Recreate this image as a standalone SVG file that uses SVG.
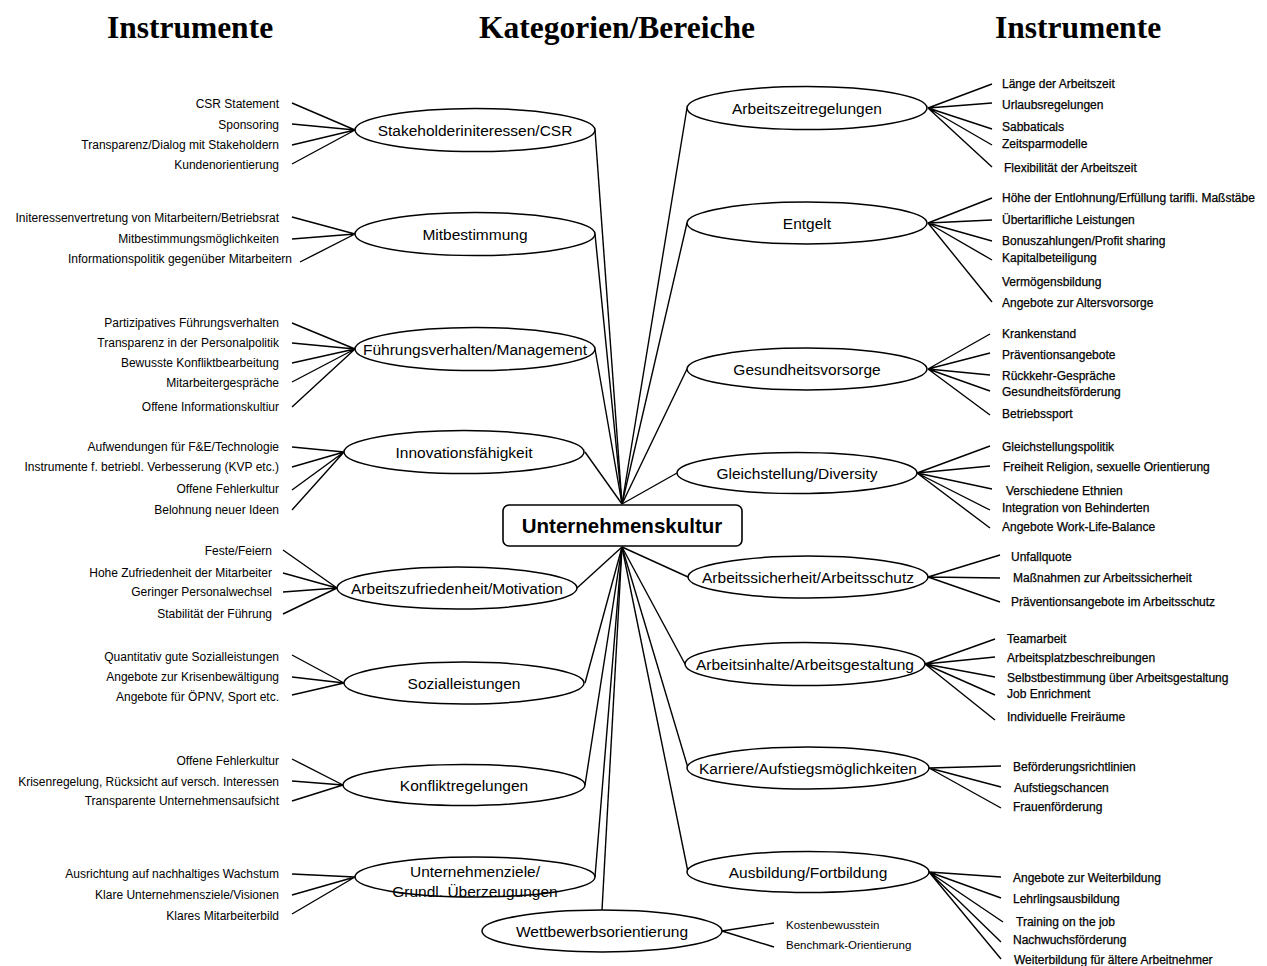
<svg xmlns="http://www.w3.org/2000/svg" width="1267" height="966" viewBox="0 0 1267 966">
  <style>
    .hdr { font-family: "Liberation Serif", "Times New Roman", serif; font-weight: bold; font-size: 31.5px; fill: #000; text-anchor: middle; }
    .cat { fill: #fff; stroke: #000; stroke-width: 1.5; }
    .catT { font-family: "Liberation Sans", Arial, sans-serif; font-size: 15.5px; fill: #000; text-anchor: middle; }
    .core { fill: #fff; stroke: #000; stroke-width: 1.6; }
    .coreT { font-family: "Liberation Sans", Arial, sans-serif; font-weight: bold; font-size: 20.5px; fill: #000; text-anchor: middle; }
    .il { font-family: "Liberation Sans", Arial, sans-serif; font-size: 12px; fill: #000; text-anchor: end; }
    .ir { font-family: "Liberation Sans", Arial, sans-serif; font-size: 12px; fill: #000; stroke: #000; stroke-width: 0.25; text-anchor: start; }
    .is { font-family: "Liberation Sans", Arial, sans-serif; font-size: 11.5px; fill: #000; text-anchor: start; }
    .ln { stroke: #000; stroke-width: 1.4; fill: none; }
  </style>

  <!-- column headings -->
  <g id="headings">
    <text class="hdr" x="190" y="38">Instrumente</text>
    <text class="hdr" x="617" y="38">Kategorien/Bereiche</text>
    <text class="hdr" x="1078" y="38">Instrumente</text>
  </g>

  <!-- all connectors: hub to categories, categories to instruments -->
  <g id="connectors" class="ln">
    <!-- hub (top) -->
    <line x1="622" y1="504" x2="595" y2="130"/>
    <line x1="622" y1="504" x2="595" y2="234"/>
    <line x1="622" y1="504" x2="595" y2="349"/>
    <line x1="622" y1="504" x2="585" y2="452"/>
    <line x1="622" y1="504" x2="687" y2="108"/>
    <line x1="622" y1="504" x2="687" y2="223"/>
    <line x1="622" y1="504" x2="687" y2="369"/>
    <line x1="622" y1="504" x2="677" y2="473"/>
    <!-- hub (bottom) -->
    <line x1="622" y1="547" x2="577" y2="588"/>
    <line x1="622" y1="547" x2="585" y2="683"/>
    <line x1="622" y1="547" x2="585" y2="785"/>
    <line x1="622" y1="547" x2="595" y2="877"/>
    <line x1="622" y1="547" x2="602" y2="910"/>
    <line x1="622" y1="547" x2="688" y2="577"/>
    <line x1="622" y1="547" x2="685" y2="664"/>
    <line x1="622" y1="547" x2="688" y2="768"/>
    <line x1="622" y1="547" x2="688" y2="872"/>

    <!-- left instruments -->
    <path d="M292 103 L355 130 M292 124 L355 130 M292 145 L355 130 M292 164 L355 130"/>
    <path d="M292 217 L355 234 M292 239 L355 234 M300 262 L355 234"/>
    <path d="M292 323 L355 349 M292 343 L355 349 M292 363 L355 349 M292 382 L355 349 M292 407 L355 349"/>
    <path d="M292 447 L344 452 M292 467 L344 452 M292 490 L344 452 M292 510 L344 452"/>
    <path d="M283 550 L337 588 M283 573 L337 588 M283 592 L337 588 M283 614 L337 588"/>
    <path d="M292 655 L344 683 M292 677 L344 683 M292 695 L344 683"/>
    <path d="M292 759 L343 785 M292 781 L343 785 M292 801 L343 785"/>
    <path d="M292 874 L355 877 M292 895 L355 877 M292 914 L355 877"/>

    <!-- right instruments -->
    <path d="M928 108 L992 84 M928 108 L992 103 M928 108 L992 129 M928 108 L992 145 M928 108 L992 167"/>
    <path d="M928 223 L992 198 M928 223 L992 220 M928 223 L992 241 M928 223 L992 260 M928 223 L992 302"/>
    <path d="M928 369 L990 334 M928 369 L990 353 M928 369 L990 375 M928 369 L990 391 M928 369 L990 415"/>
    <path d="M917 473 L990 446 M917 473 L990 466 M917 473 L992 489 M917 473 L990 510 M917 473 L990 528"/>
    <path d="M928 577 L1000 555 M928 577 L1000 578 M928 577 L1000 602"/>
    <path d="M925 664 L995 639 M925 664 L995 657 M925 664 L995 677 M925 664 L995 695 M925 664 L995 720"/>
    <path d="M929 768 L1001 766 M929 768 L1001 787 M929 768 L1001 808"/>
    <path d="M929 872 L1001 877 M929 872 L1001 898 M929 872 L1003 922 M929 872 L1001 942 M929 872 L1001 959"/>
    <path d="M722 931 L774 923 M722 931 L774 947"/>
  </g>

  <!-- central node -->
  <g id="unternehmenskultur">
    <rect class="core" x="503" y="505" width="239" height="41" rx="6"/>
    <text class="coreT" x="622" y="533">Unternehmenskultur</text>
  </g>

  <!-- left categories with their instruments -->
  <g id="stakeholder">
    <ellipse class="cat" cx="475" cy="130" rx="120" ry="21.5"/>
    <text class="catT" x="475" y="135.5">Stakeholderiniteressen/CSR</text>
    <text class="il" x="279" y="108">CSR Statement</text>
    <text class="il" x="279" y="129">Sponsoring</text>
    <text class="il" x="279" y="149">Transparenz/Dialog mit Stakeholdern</text>
    <text class="il" x="279" y="169">Kundenorientierung</text>
  </g>

  <g id="mitbestimmung">
    <ellipse class="cat" cx="475" cy="234" rx="120" ry="21.5"/>
    <text class="catT" x="475" y="239.5">Mitbestimmung</text>
    <text class="il" x="279" y="222">Initeressenvertretung von Mitarbeitern/Betriebsrat</text>
    <text class="il" x="279" y="243">Mitbestimmungsmöglichkeiten</text>
    <text class="il" x="292" y="263">Informationspolitik gegenüber Mitarbeitern</text>
  </g>

  <g id="fuehrungsverhalten">
    <ellipse class="cat" cx="475" cy="349" rx="120" ry="21.5"/>
    <text class="catT" x="475" y="354.5">Führungsverhalten/Management</text>
    <text class="il" x="279" y="327">Partizipatives Führungsverhalten</text>
    <text class="il" x="279" y="347">Transparenz in der Personalpolitik</text>
    <text class="il" x="279" y="367">Bewusste Konfliktbearbeitung</text>
    <text class="il" x="279" y="387">Mitarbeitergespräche</text>
    <text class="il" x="279" y="411">Offene Informationskultiur</text>
  </g>

  <g id="innovationsfaehigkeit">
    <ellipse class="cat" cx="464" cy="452" rx="120" ry="21.5"/>
    <text class="catT" x="464" y="457.5">Innovationsfähigkeit</text>
    <text class="il" x="279" y="451">Aufwendungen für F&amp;E/Technologie</text>
    <text class="il" x="279" y="471">Instrumente f. betriebl. Verbesserung (KVP etc.)</text>
    <text class="il" x="279" y="493">Offene Fehlerkultur</text>
    <text class="il" x="279" y="514">Belohnung neuer Ideen</text>
  </g>

  <g id="arbeitszufriedenheit">
    <ellipse class="cat" cx="457" cy="588" rx="120" ry="21"/>
    <text class="catT" x="457" y="593.5">Arbeitszufriedenheit/Motivation</text>
    <text class="il" x="272" y="555">Feste/Feiern</text>
    <text class="il" x="272" y="577">Hohe Zufriedenheit der Mitarbeiter</text>
    <text class="il" x="272" y="596">Geringer Personalwechsel</text>
    <text class="il" x="272" y="618">Stabilität der Führung</text>
  </g>

  <g id="sozialleistungen">
    <ellipse class="cat" cx="464" cy="683" rx="120" ry="21"/>
    <text class="catT" x="464" y="688.5">Sozialleistungen</text>
    <text class="il" x="279" y="661">Quantitativ gute Sozialleistungen</text>
    <text class="il" x="279" y="681">Angebote zur Krisenbewältigung</text>
    <text class="il" x="279" y="701">Angebote für ÖPNV, Sport etc.</text>
  </g>

  <g id="konfliktregelungen">
    <ellipse class="cat" cx="464" cy="785" rx="121" ry="20.5"/>
    <text class="catT" x="464" y="790.5">Konfliktregelungen</text>
    <text class="il" x="279" y="765">Offene Fehlerkultur</text>
    <text class="il" x="279" y="786">Krisenregelung, Rücksicht auf  versch. Interessen</text>
    <text class="il" x="279" y="805">Transparente Unternehmensaufsicht</text>
  </g>

  <g id="unternehmenziele">
    <ellipse class="cat" cx="475" cy="877" rx="120" ry="20"/>
    <text class="catT" x="475" y="877">Unternehmenziele/</text>
    <text class="catT" x="475" y="897">Grundl. Überzeugungen</text>
    <text class="il" x="279" y="878">Ausrichtung auf nachhaltiges Wachstum</text>
    <text class="il" x="279" y="899">Klare Unternehmensziele/Visionen</text>
    <text class="il" x="279" y="920">Klares Mitarbeiterbild</text>
  </g>

  <g id="wettbewerbsorientierung">
    <ellipse class="cat" cx="602" cy="931" rx="120" ry="21"/>
    <text class="catT" x="602" y="936.5">Wettbewerbsorientierung</text>
    <text class="is" x="786" y="929">Kostenbewusstein</text>
    <text class="is" x="786" y="949">Benchmark-Orientierung</text>
  </g>

  <!-- right categories with their instruments -->
  <g id="arbeitszeitregelungen">
    <ellipse class="cat" cx="807" cy="108" rx="120" ry="21.5"/>
    <text class="catT" x="807" y="113.5">Arbeitszeitregelungen</text>
    <text class="ir" x="1002" y="88">Länge der Arbeitszeit</text>
    <text class="ir" x="1002" y="109">Urlaubsregelungen</text>
    <text class="ir" x="1002" y="131">Sabbaticals</text>
    <text class="ir" x="1002" y="148">Zeitsparmodelle</text>
    <text class="ir" x="1004" y="172">Flexibilität der Arbeitszeit</text>
  </g>

  <g id="entgelt">
    <ellipse class="cat" cx="807" cy="223" rx="120" ry="21"/>
    <text class="catT" x="807" y="228.5">Entgelt</text>
    <text class="ir" x="1002" y="202">Höhe der Entlohnung/Erfüllung tarifli. Maßstäbe</text>
    <text class="ir" x="1002" y="224">Übertarifliche Leistungen</text>
    <text class="ir" x="1002" y="245">Bonuszahlungen/Profit sharing</text>
    <text class="ir" x="1002" y="262">Kapitalbeteiligung</text>
    <text class="ir" x="1002" y="286">Vermögensbildung</text>
    <text class="ir" x="1002" y="307">Angebote zur Altersvorsorge</text>
  </g>

  <g id="gesundheitsvorsorge">
    <ellipse class="cat" cx="807" cy="369" rx="120" ry="21"/>
    <text class="catT" x="807" y="374.5">Gesundheitsvorsorge</text>
    <text class="ir" x="1002" y="338">Krankenstand</text>
    <text class="ir" x="1002" y="359">Präventionsangebote</text>
    <text class="ir" x="1002" y="380">Rückkehr-Gespräche</text>
    <text class="ir" x="1002" y="396">Gesundheitsförderung</text>
    <text class="ir" x="1002" y="418">Betriebssport</text>
  </g>

  <g id="gleichstellung">
    <ellipse class="cat" cx="797" cy="473" rx="120" ry="20.5"/>
    <text class="catT" x="797" y="478.5">Gleichstellung/Diversity</text>
    <text class="ir" x="1002" y="451">Gleichstellungspolitik</text>
    <text class="ir" x="1003" y="471">Freiheit Religion, sexuelle Orientierung</text>
    <text class="ir" x="1006" y="495">Verschiedene Ethnien</text>
    <text class="ir" x="1002" y="512">Integration von Behinderten</text>
    <text class="ir" x="1002" y="531">Angebote Work-Life-Balance</text>
  </g>

  <g id="arbeitssicherheit">
    <ellipse class="cat" cx="808" cy="577" rx="120" ry="21"/>
    <text class="catT" x="808" y="582.5">Arbeitssicherheit/Arbeitsschutz</text>
    <text class="ir" x="1011" y="561">Unfallquote</text>
    <text class="ir" x="1013" y="582">Maßnahmen zur Arbeitssicherheit</text>
    <text class="ir" x="1011" y="606">Präventionsangebote im Arbeitsschutz</text>
  </g>

  <g id="arbeitsinhalte">
    <ellipse class="cat" cx="805" cy="664" rx="120" ry="21.5"/>
    <text class="catT" x="805" y="669.5">Arbeitsinhalte/Arbeitsgestaltung</text>
    <text class="ir" x="1007" y="643">Teamarbeit</text>
    <text class="ir" x="1007" y="662">Arbeitsplatzbeschreibungen</text>
    <text class="ir" x="1007" y="682">Selbstbestimmung über Arbeitsgestaltung</text>
    <text class="ir" x="1007" y="698">Job Enrichment</text>
    <text class="ir" x="1007" y="721">Individuelle Freiräume</text>
  </g>

  <g id="karriere">
    <ellipse class="cat" cx="808" cy="768" rx="121" ry="21"/>
    <text class="catT" x="808" y="773.5">Karriere/Aufstiegsmöglichkeiten</text>
    <text class="ir" x="1013" y="771">Beförderungsrichtlinien</text>
    <text class="ir" x="1014" y="792">Aufstiegschancen</text>
    <text class="ir" x="1013" y="811">Frauenförderung</text>
  </g>

  <g id="ausbildung">
    <ellipse class="cat" cx="808" cy="872" rx="121" ry="20.5"/>
    <text class="catT" x="808" y="877.5">Ausbildung/Fortbildung</text>
    <text class="ir" x="1013" y="882">Angebote zur Weiterbildung</text>
    <text class="ir" x="1013" y="903">Lehrlingsausbildung</text>
    <text class="ir" x="1016" y="926">Training on the job</text>
    <text class="ir" x="1013" y="944">Nachwuchsförderung</text>
    <text class="ir" x="1014" y="964">Weiterbildung für ältere Arbeitnehmer</text>
  </g>
</svg>
